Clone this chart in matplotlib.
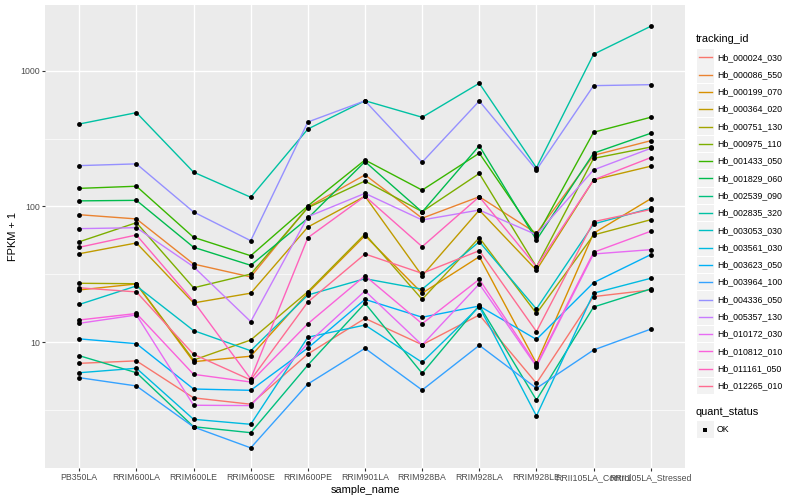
import numpy as np
import matplotlib
matplotlib.use("Agg")
import matplotlib.pyplot as plt
from matplotlib.lines import Line2D
from matplotlib.patches import Rectangle
from matplotlib.ticker import NullFormatter, FixedLocator

plt.rcParams['font.family'] = ['Liberation Sans', 'DejaVu Sans']

samples = ["PB350LA", "RRIM600LA", "RRIM600LE", "RRIM600SE", "RRIM600PE",
           "RRIM901LA", "RRIM928BA", "RRIM928LA", "RRIM928LE",
           "RRII105LA_Control", "RRII105LA_Stressed"]

tracking_ids = ["Hb_000024_030", "Hb_000086_550", "Hb_000199_070", "Hb_000364_020",
                "Hb_000751_130", "Hb_000975_110", "Hb_001433_050", "Hb_001829_060",
                "Hb_002539_090", "Hb_002835_320", "Hb_003053_030", "Hb_003561_030",
                "Hb_003623_050", "Hb_003964_100", "Hb_004336_050", "Hb_005357_130",
                "Hb_010172_030", "Hb_010812_010", "Hb_011161_050", "Hb_012265_010"]

colors = ["#F8766D", "#EA8331", "#D89000", "#C09B00", "#A3A500", "#7CAE00", "#39B600",
          "#00BB4E", "#00BF7D", "#00C1A3", "#00BFC4", "#00BAE0", "#00B0F6", "#35A2FF",
          "#9590FF", "#C77CFF", "#E76BF3", "#FA62DB", "#FF62BC", "#FF6C91"]

# FPKM + 1 values, one per sample
Hb_000024_030 = [7.0, 7.3, 3.9, 3.5, 8.2, 15.0, 9.6, 15.9, 5.0, 21.7, 24.3]
Hb_000086_550 = [87, 81, 37.7, 30.3, 99, 171, 82, 118, 63.5, 238, 305]
Hb_000199_070 = [24.3, 26.9, 7.2, 7.9, 23.1, 61, 23.0, 42.7, 7.0, 63.5, 114]
Hb_000364_020 = [44.9, 53.9, 19.5, 23.0, 70.6, 119, 30.9, 94, 34, 157, 198]
Hb_000751_130 = [27.2, 27.0, 7.4, 10.4, 23.6, 62.7, 20.7, 58.9, 16.3, 61.7, 79.9]
Hb_000975_110 = [55.0, 76.0, 25.2, 31.8, 98, 154, 91.6, 175, 36, 226, 274]
Hb_001433_050 = [136, 141, 59.3, 43.4, 101, 220, 132, 247, 60, 352, 454]
Hb_001829_060 = [110, 111, 50.1, 36.9, 81.9, 214, 91.1, 280, 56.7, 247, 346]
Hb_002539_090 = [7.97, 5.97, 2.39, 2.16, 6.8, 19.4, 5.91, 18.7, 3.76, 18.2, 24.7]
Hb_002835_320 = [405, 491, 179, 117, 372, 601, 454, 808, 193, 1321, 2123]
Hb_003053_030 = [19.0, 26.0, 12.2, 8.67, 22.3, 29.4, 24.6, 55.0, 17.6, 74.3, 97.0]
Hb_003561_030 = [5.97, 6.44, 2.71, 2.49, 10.9, 13.4, 7.12, 18.3, 2.87, 23.0, 29.6]
Hb_003623_050 = [10.6, 9.77, 4.53, 4.43, 9.08, 20.7, 15.3, 18.5, 10.5, 27.5, 44.2]
Hb_003964_100 = [5.49, 4.77, 2.38, 1.67, 4.93, 9.03, 4.45, 9.5, 4.59, 8.78, 12.5]
Hb_004336_050 = [200, 206, 91.1, 56, 419, 600, 212, 598, 186, 776, 789]
Hb_005357_130 = [68.7, 69.8, 36.0, 14.2, 84.1, 125, 79.6, 94.2, 62, 186, 268]
Hb_010172_030 = [13.8, 15.9, 3.44, 3.42, 9.83, 23.9, 9.55, 26.9, 6.63, 44.7, 48.1]
Hb_010812_010 = [14.6, 16.3, 5.81, 5.1, 13.7, 30.9, 13.7, 29.1, 6.8, 46.0, 65.7]
Hb_011161_050 = [50.1, 61.7, 20, 5.37, 58.9, 119, 50.6, 118, 36, 157, 229]
Hb_012265_010 = [25.2, 23.5, 8.16, 5.28, 19.8, 44.7, 32.2, 47.3, 12.0, 77.3, 95.0]

series = [Hb_000024_030, Hb_000086_550, Hb_000199_070, Hb_000364_020, Hb_000751_130,
          Hb_000975_110, Hb_001433_050, Hb_001829_060, Hb_002539_090, Hb_002835_320,
          Hb_003053_030, Hb_003561_030, Hb_003623_050, Hb_003964_100, Hb_004336_050,
          Hb_005357_130, Hb_010172_030, Hb_010812_010, Hb_011161_050, Hb_012265_010]

W, H = 800, 500
fig = plt.figure(figsize=(8, 5), dpi=100)
ax = fig.add_axes([45 / W, 32 / H, 640 / W, 463 / H])
ax.set_facecolor('#EBEBEB')
ax.set_yscale('log')

x = np.arange(len(samples))
for vals, col in zip(series, colors):
    ax.plot(x, vals, color=col, lw=1.0, zorder=2, solid_capstyle='butt')
for vals in series:
    ax.plot(x, vals, linestyle='none', marker='o', ms=3.5, color='black',
            markeredgewidth=0, zorder=3)

ax.set_xlim(-0.6, len(samples) - 0.4)
ax.set_ylim(1.187, 3046)

ax.yaxis.set_major_locator(FixedLocator([10, 100, 1000]))
ax.yaxis.set_minor_locator(FixedLocator([10 ** 0.5, 10 ** 1.5, 10 ** 2.5]))
ax.yaxis.set_minor_formatter(NullFormatter())
ax.set_yticklabels(["10", "100", "1000"])
ax.set_xticks(x)
ax.set_xticklabels(samples)

ax.grid(which='major', color='white', lw=1.0, zorder=0)
ax.grid(which='minor', axis='y', color='white', lw=0.5, zorder=0)
ax.set_axisbelow(True)
for s in ax.spines.values():
    s.set_visible(False)
ax.tick_params(which='major', length=2.0, width=0.8, color='#333333',
               labelcolor='#4D4D4D', labelsize=6.3, pad=1.6)
ax.tick_params(which='minor', length=0)

ax.set_xlabel("sample_name", fontsize=7.9, labelpad=2.0)
ax.set_ylabel("FPKM + 1", fontsize=7.9, labelpad=2.0)

# legend (manual, ggplot style)
def fx(px):
    return px / W

def fy(py):
    return 1 - py / H

fig.text(fx(696), fy(39), "tracking_id", fontsize=7.9, va='center', ha='left')
step = 17.3
y0 = 57.3
for i, (tid, col) in enumerate(zip(tracking_ids, colors)):
    yc = y0 + i * step
    fig.add_artist(Rectangle((fx(697), fy(yc + 8.2)), 16.5 / W, 16.4 / H,
                             transform=fig.transFigure, facecolor='#F2F2F2',
                             edgecolor='none'))
    fig.add_artist(Line2D([fx(698.5), fx(712)], [fy(yc), fy(yc)],
                          transform=fig.transFigure, color=col, lw=1.0))
    fig.text(fx(717), fy(yc), tid, fontsize=6.3, va='center', ha='left')

fig.text(fx(696), fy(412), "quant_status", fontsize=7.9, va='center', ha='left')
yc = 429.5
fig.add_artist(Rectangle((fx(697), fy(yc + 8.2)), 16.5 / W, 16.4 / H,
                         transform=fig.transFigure, facecolor='#F2F2F2',
                         edgecolor='none'))
fig.add_artist(Line2D([fx(705.3)], [fy(yc)], transform=fig.transFigure,
                      marker='s', ms=2.6, color='black', markeredgewidth=0,
                      linestyle='none'))
fig.text(fx(717), fy(yc), "OK", fontsize=6.3, va='center', ha='left')

fig.savefig("out.png", dpi=100)
